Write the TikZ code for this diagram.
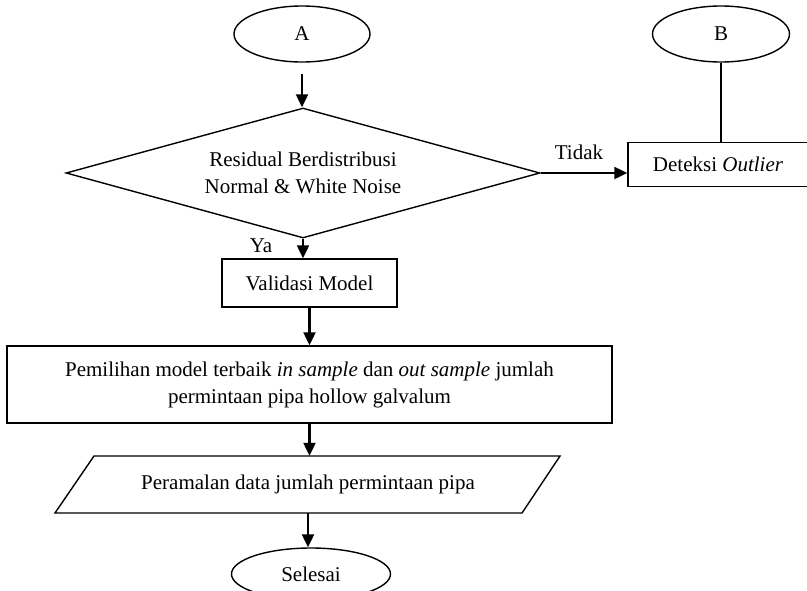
\documentclass[tikz,border=0pt]{standalone}
\usepackage{fontspec}
\setmainfont{Liberation Serif}
\usetikzlibrary{shapes.geometric,arrows.meta}
\begin{document}
\begin{tikzpicture}[x=1pt,y=-1pt,
  shapeline/.style={draw=black, line width=1.4pt},
  terminal/.style={shapeline, ellipse, inner sep=0pt},
  procbox/.style={shapeline, rectangle, inner sep=0pt, align=center},
  decision/.style={shapeline, diamond, inner sep=0pt, align=center},
  flow/.style={line width=2.2pt, -{Triangle[length=13pt,width=12pt]}},
  plainline/.style={line width=2pt},
  lbl/.style={inner sep=0pt, align=center},
  font=\fontsize{21}{27}\selectfont]
\useasboundingbox (0,0) rectangle (807,590);

\node[terminal, minimum width=136pt, minimum height=56pt] (A) at (302,34) {A};
\node[terminal, minimum width=137pt, minimum height=56pt] (B) at (721,34) {B};

\node[decision, minimum width=474pt, minimum height=130pt, aspect=3.65] (D) at (303,173)
  {Residual Berdistribusi\\Normal \& White Noise};

\node[procbox, minimum width=180pt, minimum height=43.5pt] (Det) at (718,164.5)
  {Deteksi \textit{Outlier}};

\node[procbox, minimum width=175pt, minimum height=48pt] (Val) at (309.5,283) {Validasi Model};

\node[procbox, minimum width=605pt, minimum height=77pt] (Pem) at (309.5,384.5)
  {Pemilihan model terbaik \textit{in sample} dan \textit{out sample} jumlah\\permintaan pipa hollow galvalum};

\draw[shapeline] (94,456) -- (560,456) -- (522,513) -- (55,513) -- cycle;
\node[lbl, minimum width=440pt, minimum height=57pt] (Out) at (308,484.5)
  {Peramalan data jumlah permintaan pipa};

\node[terminal, minimum width=159pt, minimum height=52pt] (Sel) at (311,574) {Selesai};

\node[lbl] (Tidak) at (579,152) {Tidak};
\node[lbl] (Ya) at (261,246) {Ya};

\draw[flow] ([yshift=-11pt]A.south) -- (A.south |- D.north);
\draw[flow] (D.east) -- (D.east -| Det.west);
\draw[plainline] (B.south) -- (B.south |- Det.north);
\draw[flow] (D.south) -- (D.south |- Val.north);
\draw[flow] (Val.south) -- (Val.south |- Pem.north);
\draw[flow] (Pem.south) -- (Pem.south |- Out.north);
\draw[flow] (Out.south) -- (Out.south |- Sel.north);
\end{tikzpicture}
\end{document}
